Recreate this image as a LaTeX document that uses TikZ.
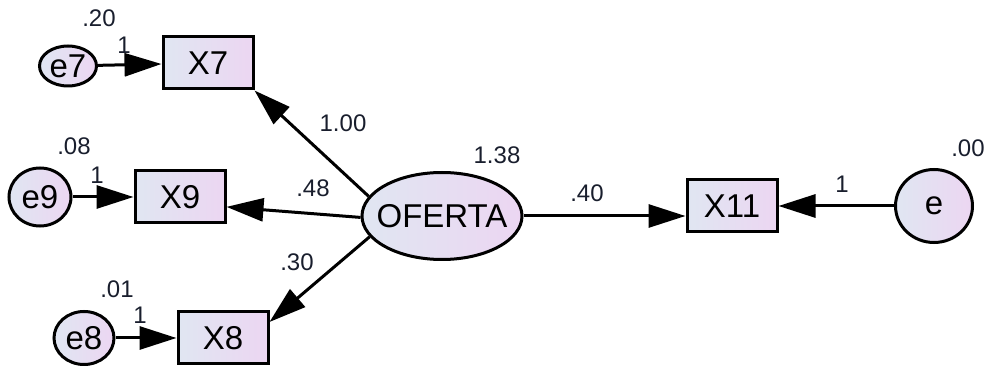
\documentclass[tikz,border=0pt]{standalone}
\usepackage{fontspec}
\setmainfont{Liberation Sans}
\usetikzlibrary{arrows.meta,shapes.geometric}
\definecolor{fillA}{RGB}{224,230,242}
\definecolor{fillB}{RGB}{236,214,242}
\definecolor{lblc}{RGB}{25,30,45}
\tikzset{
  obs/.style={draw=black,line width=3pt,rectangle,left color=fillA,right color=fillB,
    minimum width=90pt,minimum height=52pt,inner sep=0pt,font=\fontsize{33}{33}\selectfont},
  lat/.style={draw=black,line width=3pt,ellipse,left color=fillA,right color=fillB,
    inner sep=0pt,font=\fontsize{33}{33}\selectfont},
  lbl/.style={inner sep=0pt,text=lblc,font=\fontsize{24}{24}\selectfont},
  pth/.style={line width=3pt,-{Triangle[length=37pt,width=23pt]}}
}
\begin{document}
\begin{tikzpicture}[x=1pt,y=-1pt]
\useasboundingbox (0,0) rectangle (989,366);
% observed
\node[obs] (X7) at (208,63) {X7};
\node[obs] (X9) at (180,197) {X9};
\node[obs] (X8) at (223,338) {X8};
\node[obs] (X11) at (732,206) {X11};
% latent / errors
\node[lat,minimum width=160pt,minimum height=87pt] (OF) at (442,216) {\makebox[0pt]{OFERTA}};
\node[lat,minimum width=57pt,minimum height=40pt] (e7) at (68,66) {\makebox[0pt]{e7}};
\node[lat,minimum width=62pt,minimum height=58pt] (e9) at (40,197) {\makebox[0pt]{e9}};
\node[lat,minimum width=60pt,minimum height=53pt] (e8) at (84,338) {\makebox[0pt]{e8}};
\node[lat,minimum width=77pt,minimum height=73pt] (e) at (934,206) {\makebox[0pt]{e}};
% paths
\draw[pth] (OF.165) -- (X7.south east);
\draw[pth] (OF.181) -- (X9.-12);
\draw[pth] (OF.196) -- (X8.19);
\draw[pth] (OF.east) -- (OF.east -| X11.west);
\draw[pth] (e7) -- (X7);
\draw[pth] (e9) -- (X9);
\draw[pth] (e8) -- (X8);
\draw[pth] (e) -- (X11);
% labels
\node[lbl] (l20) at (99,18) {.20};
\node[lbl] (l1a) at (124,45) {1};
\node[lbl] (l08) at (74,146) {.08};
\node[lbl] (l1b) at (97,175) {1};
\node[lbl] (l01) at (117,289) {.01};
\node[lbl] (l1c) at (140,315) {1};
\node[lbl] (l100) at (343,123) {1.00};
\node[lbl] (l48) at (313,188) {.48};
\node[lbl] (l30) at (297,262) {.30};
\node[lbl] (l138) at (497,155) {1.38};
\node[lbl] (l40) at (587,193) {.40};
\node[lbl] (l00) at (968,148) {.00};
\node[lbl] (l1d) at (842,184) {1};
\end{tikzpicture}
\end{document}
